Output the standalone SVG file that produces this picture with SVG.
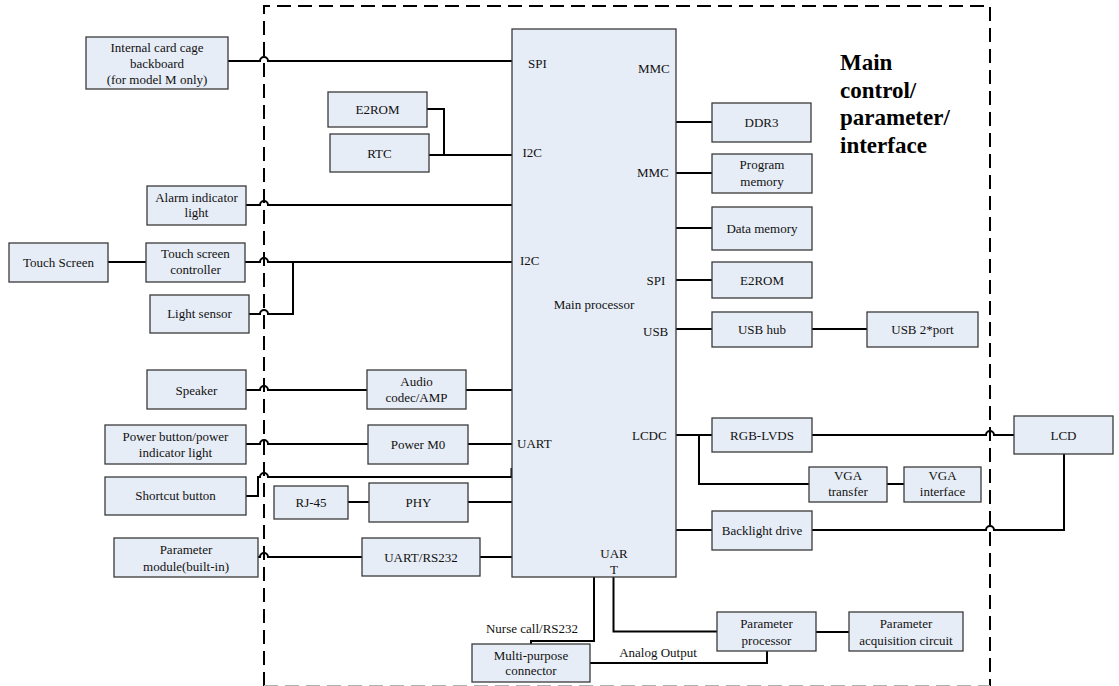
<svg xmlns="http://www.w3.org/2000/svg" width="1119" height="686" viewBox="0 0 1119 686">
  <style>
    .box { fill: #E7EDF7; stroke: #3a3a3a; stroke-width: 1.3; }
    .t { font-family: "Liberation Serif", "Times New Roman", serif; font-size: 13px; fill: #111; }
    .c { text-anchor: middle; }
    .wire { fill: none; stroke: #000; stroke-width: 2; }
    .border { fill: none; stroke: #000; stroke-width: 2; stroke-dasharray: 14 7; }
    .title { font-family: "Liberation Serif", "Times New Roman", serif; font-size: 23px; font-weight: bold; fill: #000; }
  </style>
  <rect width="1119" height="686" fill="#fff"/>

  <!-- board boundary -->
  <g id="boundary">
    <path class="border" d="M264,686 V6 H990 V686"/>
    <path d="M264,685.5 H990" fill="none" stroke="#b0b0b0" stroke-width="1.2" stroke-dasharray="14 7"/>
    <text class="title" x="840" y="70">Main</text>
    <text class="title" x="840" y="97.5">control/</text>
    <text class="title" x="840" y="125">parameter/</text>
    <text class="title" x="840" y="152.5">interface</text>
  </g>

  <!-- connectors -->
  <g id="connectors" class="wire">
    <path d="M228,61 H260 a4,4 0 0 1 8,0 H512"/>
    <path d="M427,109 H444 V155"/>
    <path d="M429,155 H512"/>
    <path d="M246,205 H260 a4,4 0 0 1 8,0 H512"/>
    <path d="M108,262 H146"/>
    <path d="M245,262 H260 a4,4 0 0 1 8,0 H512"/>
    <path d="M293,262 V314 H268 a4,4 0 0 0 -8,0 H249"/>
    <path d="M246,390 H260 a4,4 0 0 1 8,0 H367"/>
    <path d="M466,390 H512"/>
    <path d="M246,444 H260 a4,4 0 0 1 8,0 H368"/>
    <path d="M468,444 H512"/>
    <path d="M246,496 H258 V477 H260 a4,4 0 0 1 8,0 H511.5 V468"/>
    <path d="M348,502 H369"/>
    <path d="M468,502 H512"/>
    <path d="M258,557 H260 a4,4 0 0 1 8,0 H362"/>
    <path d="M480,557 H512"/>
    <path d="M594,577 V641 H531 V644"/>
    <path d="M613.5,577 V631.5 H717"/>
    <path d="M590,663 H767 V651"/>
    <path d="M816,632 H849"/>
    <path d="M676,122 H712"/>
    <path d="M676,173 H712"/>
    <path d="M676,228 H712"/>
    <path d="M676,280 H712"/>
    <path d="M676,329 H712"/>
    <path d="M812,329 H867"/>
    <path d="M676,435 H712"/>
    <path d="M812,435 H986 a4,4 0 0 1 8,0 H1014"/>
    <path d="M699,435 V484 H809"/>
    <path d="M887,484 H904"/>
    <path d="M676,530 H712"/>
    <path d="M1064,454 V530 H994 a4,4 0 0 0 -8,0 H812"/>
  </g>

  <!-- main processor -->
  <g id="main-processor">
    <rect class="box" x="512" y="29" width="164" height="548"/>
    <text class="t c" x="594" y="308.5">Main processor</text>
    <text class="t" x="528" y="68">SPI</text>
    <text class="t" x="522.5" y="157">I2C</text>
    <text class="t" x="520" y="265">I2C</text>
    <text class="t" x="517" y="448">UART</text>
    <text class="t" x="638" y="73">MMC</text>
    <text class="t" x="637" y="176.5">MMC</text>
    <text class="t" x="646.5" y="284.5">SPI</text>
    <text class="t" x="643" y="335.5">USB</text>
    <text class="t" x="632" y="439.5">LCDC</text>
    <text class="t c" x="614" y="557.5">UAR</text>
    <text class="t c" x="614" y="573.5">T</text>
  </g>

  <!-- left-side peripherals -->
  <g id="card-cage">
    <rect class="box" x="86" y="37" width="142" height="52"/>
    <text class="t c" x="157" y="51.5">Internal card cage</text>
    <text class="t c" x="157" y="67.5">backboard</text>
    <text class="t c" x="157" y="84">(for model M only)</text>
  </g>
  <g id="e2rom-left">
    <rect class="box" x="328" y="92" width="99" height="35"/>
    <text class="t c" x="377.5" y="113.5">E2ROM</text>
  </g>
  <g id="rtc">
    <rect class="box" x="330" y="134" width="99" height="38"/>
    <text class="t c" x="379.5" y="157.5">RTC</text>
  </g>
  <g id="alarm-light">
    <rect class="box" x="147" y="186" width="99" height="39"/>
    <text class="t c" x="196.5" y="202">Alarm indicator</text>
    <text class="t c" x="196.5" y="216.5">light</text>
  </g>
  <g id="touch-screen">
    <rect class="box" x="9" y="243" width="99" height="39"/>
    <text class="t c" x="58.5" y="266.5">Touch Screen</text>
  </g>
  <g id="touch-controller">
    <rect class="box" x="146" y="243" width="99" height="39"/>
    <text class="t c" x="195.5" y="258">Touch screen</text>
    <text class="t c" x="195.5" y="274">controller</text>
  </g>
  <g id="light-sensor">
    <rect class="box" x="150" y="295" width="99" height="38"/>
    <text class="t c" x="199.5" y="318">Light sensor</text>
  </g>
  <g id="speaker">
    <rect class="box" x="147" y="370" width="99" height="39"/>
    <text class="t c" x="196.5" y="394.5">Speaker</text>
  </g>
  <g id="audio-codec">
    <rect class="box" x="367" y="370" width="99" height="39"/>
    <text class="t c" x="416.5" y="386">Audio</text>
    <text class="t c" x="416.5" y="402">codec/AMP</text>
  </g>
  <g id="power-button">
    <rect class="box" x="105" y="425" width="141" height="39"/>
    <text class="t c" x="175.5" y="441">Power button/power</text>
    <text class="t c" x="175.5" y="457">indicator light</text>
  </g>
  <g id="power-m0">
    <rect class="box" x="368" y="425" width="100" height="39"/>
    <text class="t c" x="418" y="448.5">Power M0</text>
  </g>
  <g id="shortcut-button">
    <rect class="box" x="105" y="477" width="141" height="38"/>
    <text class="t c" x="175.5" y="500">Shortcut button</text>
  </g>
  <g id="rj45">
    <rect class="box" x="274" y="486" width="74" height="33"/>
    <text class="t c" x="311" y="506.5">RJ-45</text>
  </g>
  <g id="phy">
    <rect class="box" x="369" y="483" width="99" height="39"/>
    <text class="t c" x="418.5" y="506.5">PHY</text>
  </g>
  <g id="parameter-module">
    <rect class="box" x="114" y="538" width="144" height="39"/>
    <text class="t c" x="186" y="554">Parameter</text>
    <text class="t c" x="186" y="570.5">module(built-in)</text>
  </g>
  <g id="uart-rs232">
    <rect class="box" x="362" y="538" width="118" height="38"/>
    <text class="t c" x="421" y="561.5">UART/RS232</text>
  </g>

  <!-- bottom peripherals -->
  <g id="multi-purpose-connector">
    <rect class="box" x="472" y="644" width="118" height="38"/>
    <text class="t c" x="531" y="659.5">Multi-purpose</text>
    <text class="t c" x="531" y="674.5">connector</text>
  </g>
  <g id="parameter-processor">
    <rect class="box" x="717" y="612" width="99" height="39"/>
    <text class="t c" x="766.5" y="628">Parameter</text>
    <text class="t c" x="766.5" y="644.5">processor</text>
  </g>
  <g id="parameter-acquisition">
    <rect class="box" x="849" y="612" width="114" height="39"/>
    <text class="t c" x="906" y="628">Parameter</text>
    <text class="t c" x="906" y="644.5">acquisition circuit</text>
  </g>
  <g id="edge-labels">
    <text class="t c" x="532" y="632.5">Nurse call/RS232</text>
    <text class="t c" x="658" y="656.5">Analog Output</text>
  </g>

  <!-- right-side peripherals -->
  <g id="ddr3">
    <rect class="box" x="712" y="103" width="99" height="39"/>
    <text class="t c" x="761.5" y="126.5">DDR3</text>
  </g>
  <g id="program-memory">
    <rect class="box" x="712" y="154" width="100" height="39"/>
    <text class="t c" x="762" y="169">Program</text>
    <text class="t c" x="762" y="186">memory</text>
  </g>
  <g id="data-memory">
    <rect class="box" x="712" y="207" width="100" height="43"/>
    <text class="t c" x="762" y="232.5">Data memory</text>
  </g>
  <g id="e2rom-right">
    <rect class="box" x="712" y="262" width="100" height="36"/>
    <text class="t c" x="762" y="284.5">E2ROM</text>
  </g>
  <g id="usb-hub">
    <rect class="box" x="712" y="312" width="100" height="35"/>
    <text class="t c" x="762" y="333.5">USB hub</text>
  </g>
  <g id="usb-port">
    <rect class="box" x="867" y="312" width="111" height="35"/>
    <text class="t c" x="922.5" y="333.5">USB 2*port</text>
  </g>
  <g id="rgb-lvds">
    <rect class="box" x="712" y="418" width="100" height="34"/>
    <text class="t c" x="762" y="439.5">RGB-LVDS</text>
  </g>
  <g id="lcd">
    <rect class="box" x="1014" y="416" width="99" height="38"/>
    <text class="t c" x="1063.5" y="439.5">LCD</text>
  </g>
  <g id="vga-transfer">
    <rect class="box" x="809" y="467" width="78" height="35"/>
    <text class="t c" x="848" y="479.5">VGA</text>
    <text class="t c" x="848" y="496">transfer</text>
  </g>
  <g id="vga-interface">
    <rect class="box" x="904" y="467" width="77" height="35"/>
    <text class="t c" x="942.5" y="479.5">VGA</text>
    <text class="t c" x="942.5" y="496">interface</text>
  </g>
  <g id="backlight-drive">
    <rect class="box" x="712" y="511" width="100" height="39"/>
    <text class="t c" x="762" y="534.5">Backlight drive</text>
  </g>
</svg>
